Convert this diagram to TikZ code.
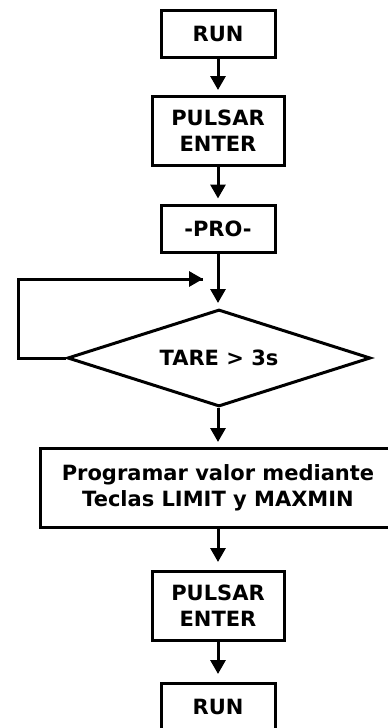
\documentclass[tikz,border=0pt]{standalone}
\usepackage{fontspec}
\setmainfont{DejaVu Sans}
\usetikzlibrary{arrows.meta,shapes.geometric}
\begin{document}
\begin{tikzpicture}[x=1pt,y=-1pt,
  every node/.style={font=\bfseries\fontsize{21}{26}\selectfont, align=center, inner sep=0pt},
  box/.style={draw, line width=3pt, rectangle},
  smallbox/.style={box, minimum width=114pt, minimum height=47pt},
  pulbox/.style={box, minimum width=132pt, minimum height=69pt},
  decision/.style={draw, line width=3pt, diamond, minimum width=303pt, minimum height=97pt, aspect=3.1},
  arr/.style={line width=3pt, -{Triangle[width=15pt,length=14pt]}},
  line/.style={line width=3pt}]
\useasboundingbox (0,0) rectangle (388,728);
\clip (0,0) rectangle (388,728);
\node[smallbox] (run1) at (218,34) {RUN};
\node[pulbox] (pul1) at (218,131) {PULSAR\\ENTER};
\node[smallbox] (pro) at (218,228.5) {-PRO-};
\node[decision] (dec) at (219,358) {TARE > 3s};
\node[box, minimum width=355pt, minimum height=79pt] (prog) at (218,488) {Programar valor mediante\\Teclas LIMIT y MAXMIN};
\node[pulbox] (pul2) at (218,606) {PULSAR\\ENTER};
\node[smallbox] (run2) at (218,707) {RUN};
\coordinate (lb) at (18,358);
\coordinate (lt) at (18,279);
\coordinate (lend) at (203,279);
\draw[arr, shorten >=5pt] (run1.south) -- (pul1.north);
\draw[arr, shorten >=5pt] (pul1.south) -- (pro.north);
\draw[arr, shorten >=5pt] (pro.south) -- (pro.south |- dec.north);
\draw[arr, shorten >=5pt] (dec.south -| pro.south) -- (prog.north);
\draw[arr, shorten >=8pt] (prog.south) -- (pul2.north);
\draw[arr, shorten >=8pt] (pul2.south) -- (run2.north);
\draw[line, line join=miter] (dec.west) -- (lb) -- (lt) -- (lend);
\draw[arr] (lt) -- (lend);
\end{tikzpicture}
\end{document}
